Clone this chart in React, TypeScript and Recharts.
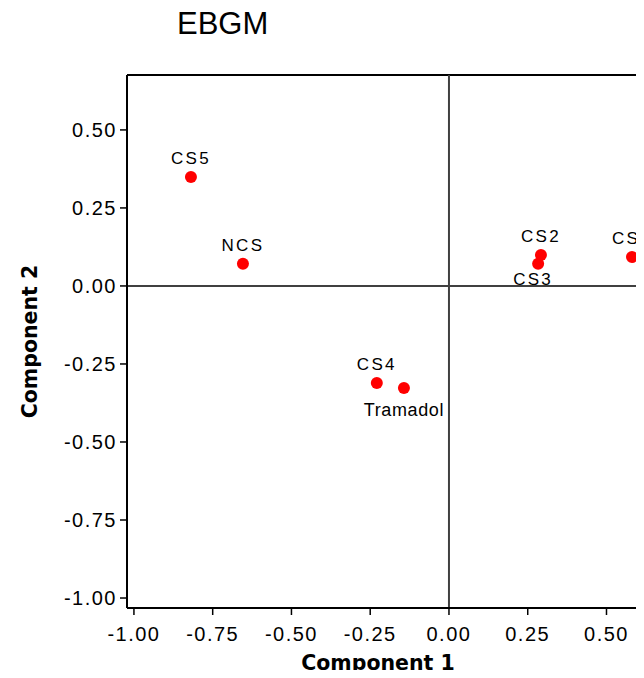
import React from 'react';
import {
  ScatterChart,
  Scatter,
  XAxis,
  YAxis,
  ReferenceLine,
  Label,
} from 'recharts';

// values
const names = ['CS5', 'NCS', 'CS4', 'Tramadol', 'CS2', 'CS3', 'CS1'];
const comp1 = [-0.819, -0.654, -0.229, -0.143, 0.292, 0.283, 0.581];
const comp2 = [0.349, 0.071, -0.311, -0.327, 0.099, 0.071, 0.093];
const xTicks = [-1, -0.75, -0.5, -0.25, 0, 0.25, 0.5];
const yTicks = [-1, -0.75, -0.5, -0.25, 0, 0.25, 0.5];

const labelsBelow = ['CS3', 'Tramadol'];

const points = names.map((name, i) => ({ name, x: comp1[i], y: comp2[i] }));

const X_MIN = -1.022;
const X_MAX = 0.8;
const Y_MIN = -1.032;
const Y_MAX = 0.676;

const tickFont = { fontFamily: 'Liberation Sans', fontSize: 20, fill: '#000', letterSpacing: 1.5 };
const titleFont = 'DejaVu Sans';

function Dot(props: any) {
  const { cx, cy, payload } = props;
  const below = labelsBelow.includes(payload.name);
  const isTram = payload.name === 'Tramadol';
  return (
    <g>
      <circle cx={cx} cy={cy} r={6} fill="#ff0000" />
      <text
        x={payload.name === 'CS3' ? cx - 5 : cx}
        y={below ? cy + (isTram ? 28 : 21) : cy - 13}
        textAnchor="middle"
        fontFamily="Liberation Sans"
        fontSize={isTram ? 18 : 17}
        letterSpacing={isTram ? 0.6 : 2.3}
        fill="#000"
      >
        {payload.name}
      </text>
    </g>
  );
}

export default function App() {
  return (
    <div style={{ margin: -8, width: 644, height: 678, overflow: 'hidden', position: 'relative', background: '#fff' }}>
      <div
        style={{
          position: 'absolute',
          left: 177,
          top: 8,
          fontFamily: 'Liberation Sans',
          fontSize: 31,
          lineHeight: 1,
          color: '#000',
        }}
      >
        EBGM
      </div>
      <ScatterChart width={711} height={678} margin={{ top: 75, right: 10, bottom: 0, left: 0 }}>
        <XAxis
          type="number"
          dataKey="x"
          domain={[X_MIN, X_MAX]}
          allowDataOverflow
          ticks={xTicks}
          tickFormatter={(v: number) => v.toFixed(2)}
          tick={tickFont}
          tickSize={7}
          tickMargin={12}
          height={70}
          axisLine={{ stroke: '#000', strokeWidth: 2 }}
          tickLine={{ stroke: '#000', strokeWidth: 1.5 }}
        >
          <Label
            content={({ viewBox }: any) => (
              <text
                x={viewBox.x + 251}
                y={670}
                textAnchor="middle"
                fontFamily={titleFont}
                fontWeight="bold"
                fontSize={20.5}
                fill="#000"
              >
                Component 1
              </text>
            )}
          />
        </XAxis>
        <YAxis
          type="number"
          dataKey="y"
          domain={[Y_MIN, Y_MAX]}
          allowDataOverflow
          ticks={yTicks}
          tickFormatter={(v: number) => v.toFixed(2)}
          tick={tickFont}
          tickSize={7}
          tickMargin={3}
          width={127}
          axisLine={{ stroke: '#000', strokeWidth: 2 }}
          tickLine={{ stroke: '#000', strokeWidth: 1.5 }}
        >
          <Label
            content={({ viewBox }: any) => {
              const cy = viewBox.y + viewBox.height / 2;
              return (
                <text
                  x={37}
                  y={cy}
                  transform={`rotate(-90, 37, ${cy})`}
                  textAnchor="middle"
                  fontFamily={titleFont}
                  fontWeight="bold"
                  fontSize={20.5}
                  fill="#000"
                >
                  Component 2
                </text>
              );
            }}
          />
        </YAxis>
        <ReferenceLine y={Y_MAX} stroke="#000" strokeWidth={2} />
        <ReferenceLine x={0} stroke="#404040" strokeWidth={2} />
        <ReferenceLine y={0} stroke="#404040" strokeWidth={2} />
        <Scatter data={points} shape={Dot} isAnimationActive={false} />
      </ScatterChart>
    </div>
  );
}
